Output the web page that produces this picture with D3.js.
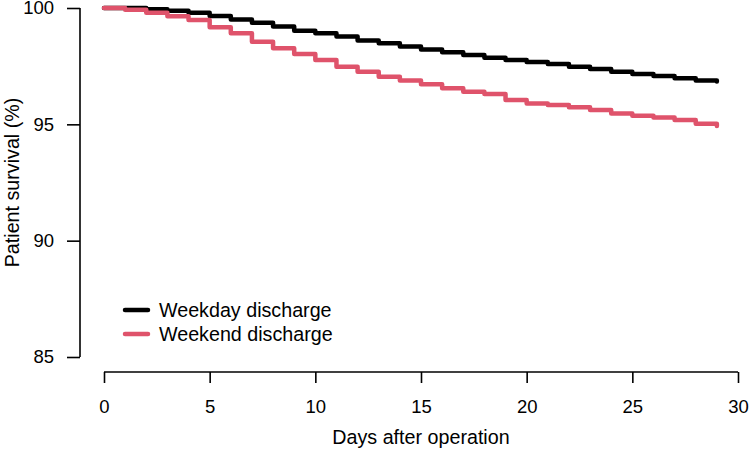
<!DOCTYPE html>
<html>
<head>
<meta charset="utf-8">
<script src="https://cdn.jsdelivr.net/npm/d3@7"></script>
<style>
  body { margin: 0; background: #fff; }
  text { font-family: "Liberation Sans", Arial, sans-serif; fill: #000; }
</style>
</head>
<body>
<div id="chart"></div>
<script>
// data
const days = d3.range(0, 30);
const weekday = [100, 100, 99.95, 99.88, 99.8, 99.66, 99.51, 99.37, 99.2, 99.02,
  98.92, 98.77, 98.6, 98.48, 98.34, 98.22, 98.1, 97.98, 97.86, 97.77,
  97.68, 97.59, 97.48, 97.38, 97.26, 97.16, 97.08, 96.98, 96.88, 96.84];
const weekend = [100, 99.93, 99.8, 99.65, 99.48, 99.17, 98.91, 98.55, 98.27, 98.02,
  97.77, 97.48, 97.26, 97.05, 96.88, 96.72, 96.55, 96.4, 96.3, 96.05,
  95.9, 95.83, 95.73, 95.62, 95.47, 95.37, 95.29, 95.19, 95.02, 94.93];
const xTicks = [0, 5, 10, 15, 20, 25, 30];
const yTicks = [85, 90, 95, 100];
const seriesNames = ["Weekday discharge", "Weekend discharge"];
const colors = ["#000000", "#DF536B"];

const width = 751, height = 455;
const tickFont = 18.5, labelFont = 19.7;

const svg = d3.select("#chart")
  .append("svg")
  .attr("width", width)
  .attr("height", height);

const x = d3.scaleLinear().domain([0, 30]).range([104, 738]);
const y = d3.scaleLinear().domain([85, 100]).range([357, 8]);

// axes, R style (detached, no box)
const xAxis = svg.append("g")
  .attr("transform", "translate(0,372)")
  .call(d3.axisBottom(x).tickValues(xTicks).tickSize(11).tickPadding(17));
const yAxis = svg.append("g")
  .attr("transform", "translate(80,0)")
  .call(d3.axisLeft(y).tickValues(yTicks).tickSize(13).tickPadding(13));

[xAxis, yAxis].forEach(g => {
  g.select(".domain").attr("stroke", "#000").attr("stroke-width", 1.6);
  g.selectAll(".tick line").attr("stroke", "#000").attr("stroke-width", 1.6);
  g.selectAll(".tick text").attr("font-size", tickFont).attr("font-family", "Liberation Sans, Arial, sans-serif");
});
// remove outer ticks of the domain path
xAxis.select(".domain").attr("d", `M${x(0)},0H${x(30)}`);
yAxis.select(".domain").attr("d", `M0,${y(85)}V${y(100)}`);

svg.append("text")
  .attr("x", (x(0) + x(30)) / 2)
  .attr("y", 443.5)
  .attr("text-anchor", "middle")
  .attr("font-size", labelFont)
  .text("Days after operation");

svg.append("text")
  .attr("transform", `translate(19,${(y(85) + y(100)) / 2}) rotate(-90)`)
  .attr("text-anchor", "middle")
  .attr("font-size", labelFont)
  .text("Patient survival (%)");

// survival step lines
const line = d3.line()
  .x((d, i) => x(days[i]))
  .y(d => y(d))
  .curve(d3.curveStepAfter);

[weekday, weekend].forEach((vals, k) => {
  svg.append("path")
    .datum(vals)
    .attr("fill", "none")
    .attr("stroke", colors[k])
    .attr("stroke-width", 4.5)
    .attr("stroke-linecap", "round")
    .attr("stroke-linejoin", "round")
    .attr("d", line);
});

// legend
const legend = svg.append("g");
seriesNames.forEach((name, k) => {
  const ly = 310 + k * 24;
  legend.append("line")
    .attr("x1", 125).attr("x2", 148)
    .attr("y1", ly).attr("y2", ly)
    .attr("stroke", colors[k])
    .attr("stroke-width", 4.5)
    .attr("stroke-linecap", "round");
  legend.append("text")
    .attr("x", 159)
    .attr("y", ly)
    .attr("dy", "0.35em")
    .attr("font-size", labelFont)
    .text(name);
});
</script>
</body>
</html>
